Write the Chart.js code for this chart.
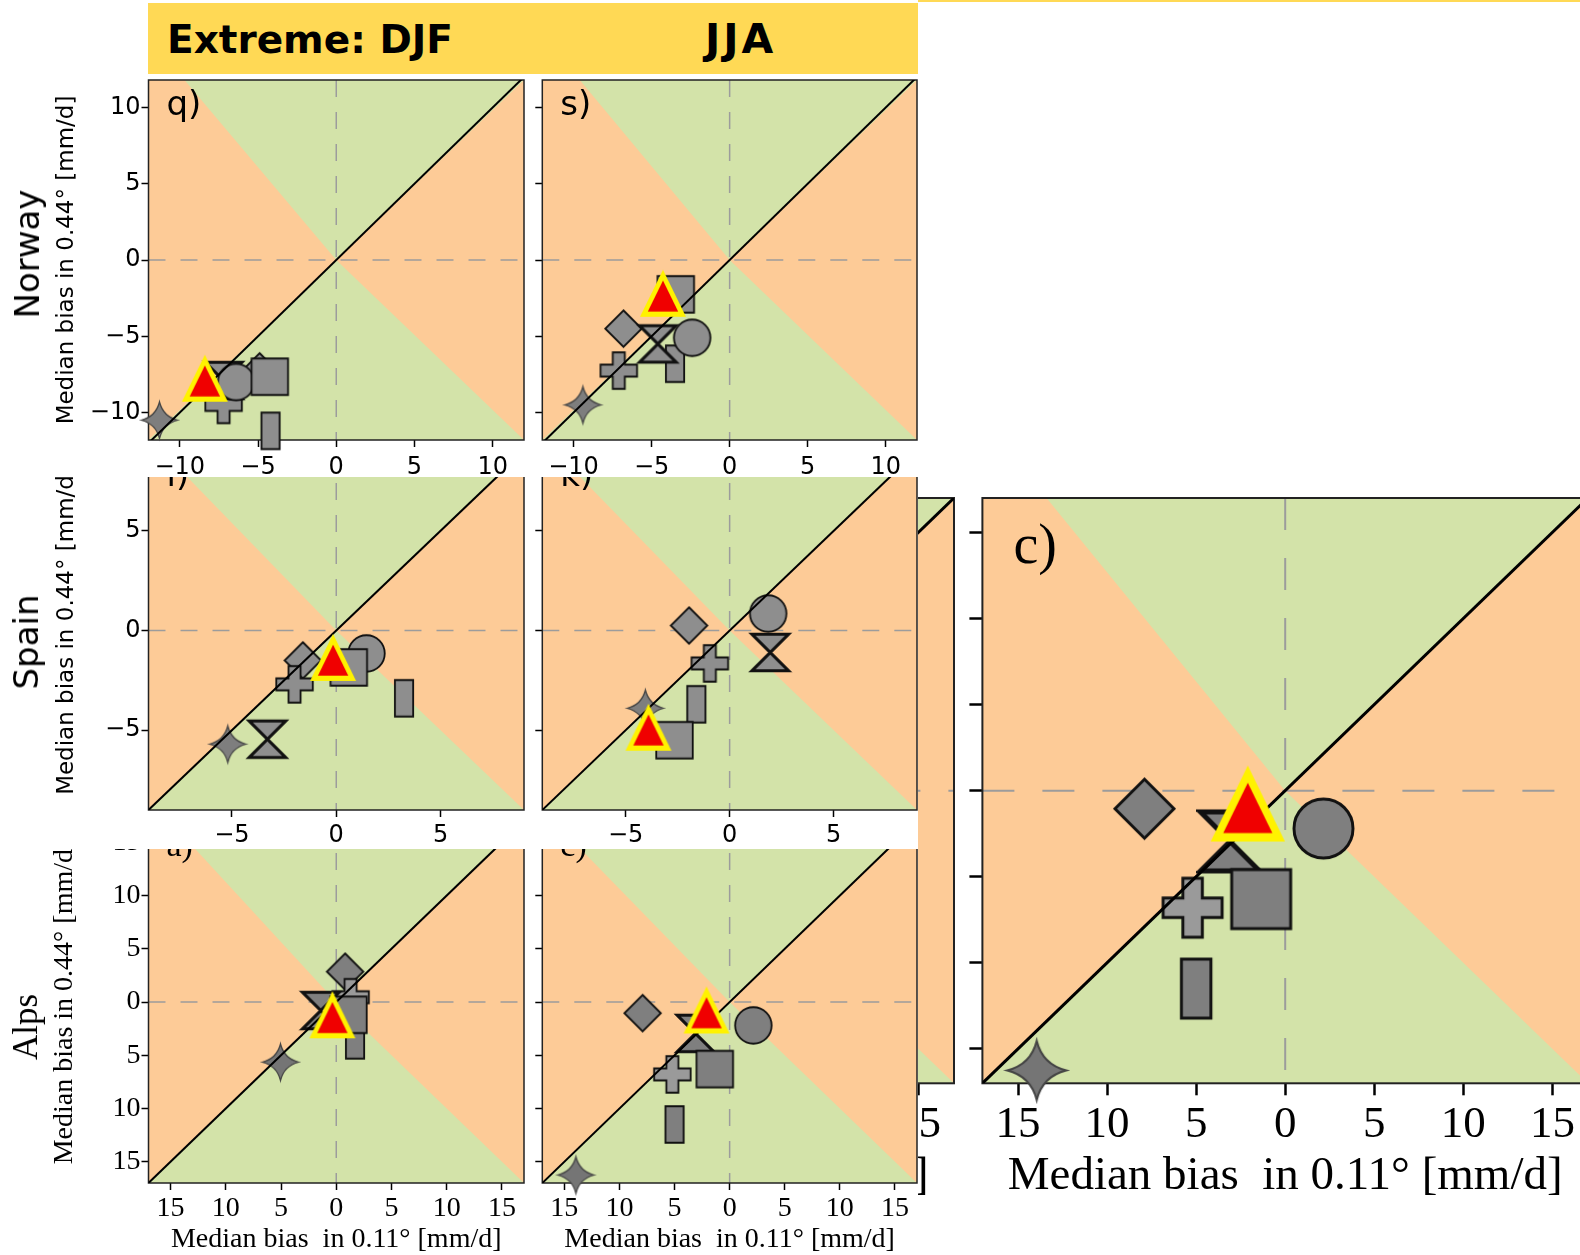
<!DOCTYPE html>
<html>
<head>
<meta charset="utf-8">
<script src="https://cdn.jsdelivr.net/npm/chart.js@4.4.1/dist/chart.umd.min.js"></script>
<style>
  html, body { margin: 0; padding: 0; background: #fff; }
  body { width: 1580px; height: 1255px; overflow: hidden; position: relative; }
  .box { position: absolute; background: #fff; }
  .box canvas { display: block; }
  .banner { position: absolute; left: 148px; top: 3px; width: 770px; height: 71px; background: #FFD955; z-index: 20; }
  .banner span { position: absolute; top: 50%; transform: translateY(-50%); font: bold 39px "DejaVu Sans"; color: #000; white-space: nowrap; }
  .topline { position: absolute; left: 918px; top: 0; width: 662px; height: 2px; background: #FFD955; z-index: 20; }
  .rlab { position: absolute; transform: translate(-50%, -50%) rotate(-90deg); white-space: nowrap; color: #000; z-index: 20; }
</style>
</head>
<body>
<div class="topline"></div>
<div class="banner">
  <span style="left:19px">Extreme: DJF</span>
  <span style="left:557px;font-size:41px;letter-spacing:3px">JJA</span>
</div>
<div class="rlab" style="left:27px;top:254px;font:34px 'DejaVu Sans'">Norway</div>
<div class="rlab" style="left:26px;top:642px;font:34px 'DejaVu Sans'">Spain</div>
<div class="rlab" style="left:26px;top:1027px;font:35px 'Liberation Serif'">Alps</div>

<script>
// marker order used in every panel (drawn bottom to top)
const markerKinds = ["star", "diamond", "rect", "plus", "hourglass", "circle", "square", "mean"];

// median bias in 0.11° (x) and 0.44° (y), mm/d
const norwayDjfX = [-11.3, -4.9, -4.2, -7.2, -7.2, -6.4, -4.25, -8.4];
const norwayDjfY = [-10.5, -7.3, -11.2, -9.5, -7.9, -8.0, -7.65, -7.75];
const norwayJjaX = [-9.4, -6.8, -3.5, -7.1, -4.6, -2.4, -3.45, -4.27];
const norwayJjaY = [-9.5, -4.5, -6.8, -7.25, -5.5, -5.1, -2.25, -2.18];
const spainDjfX = [-5.2, -1.6, 3.25, -2.0, -3.3, 1.45, 0.6, -0.15];
const spainDjfY = [-5.7, -1.5, -3.4, -2.7, -5.45, -1.15, -1.85, -1.35];
const spainJjaX = [-4.05, -1.95, -1.6, -0.95, 1.95, 1.85, -2.65, -3.9];
const spainJjaY = [-3.9, 0.25, -3.7, -1.65, -1.1, 0.85, -5.5, -4.85];
const alpsDjfX = [-5.05, 0.8, 1.7, 1.3, -1.4, null, 1.1, -0.35];
const alpsDjfY = [-5.65, 2.85, -3.6, 0.45, -0.8, null, -1.2, -1.2];
const alpsJjaX = [-13.95, -7.9, -5.0, -5.2, -3.1, 2.15, -1.35, -2.1];
const alpsJjaY = [-16.25, -1.05, -11.5, -6.8, -2.95, -2.2, -6.3, -0.75];

const norwayTicks = [-10, -5, 0, 5, 10];
const spainTicks = [-5, 0, 5];
const alpsTicks = [-15, -10, -5, 0, 5, 10, 15];
const oneToOne = [-20, 20];

const ORANGE = "#FDCB97";
const GREEN = "#D3E3A9";

// marker images drawn once per size
function shapeCanvas(kind, s, fill) {
  let w = s, h = s;
  if (kind === "rect") w = s / 2;
  if (kind === "mean") { w = s * 1.26; h = s * 1.29; }
  const pad = 4;
  const c = document.createElement("canvas");
  c.width = Math.round(w + 2 * pad);
  c.height = Math.round(h + 2 * pad);
  const g = c.getContext("2d");
  g.translate(c.width / 2, c.height / 2);
  const hw = w / 2, hh = h / 2;
  if (kind === "mean") {
    const tri = (k) => {
      const cy = hh / 3;
      g.beginPath();
      g.moveTo(0, cy + (-hh - cy) * k);
      g.lineTo(hw * k, cy + (hh - cy) * k);
      g.lineTo(-hw * k, cy + (hh - cy) * k);
      g.closePath();
    };
    tri(1); g.fillStyle = "#FFF200"; g.fill();
    tri(0.66); g.fillStyle = "#F00000"; g.fill();
    return c;
  }
  g.beginPath();
  if (kind === "square" || kind === "rect") {
    g.rect(-hw, -hh, w, h);
  } else if (kind === "circle") {
    g.arc(0, 0, hw, 0, Math.PI * 2);
  } else if (kind === "diamond") {
    g.moveTo(0, -hh); g.lineTo(hw, 0); g.lineTo(0, hh); g.lineTo(-hw, 0); g.closePath();
  } else if (kind === "plus") {
    const t = s * 0.165;
    g.moveTo(-t, -hh); g.lineTo(t, -hh); g.lineTo(t, -t); g.lineTo(hw, -t); g.lineTo(hw, t);
    g.lineTo(t, t); g.lineTo(t, hh); g.lineTo(-t, hh); g.lineTo(-t, t); g.lineTo(-hw, t);
    g.lineTo(-hw, -t); g.lineTo(-t, -t); g.closePath();
  } else if (kind === "star") {
    const k = 0.2 * hw;
    g.moveTo(0, -hh);
    g.quadraticCurveTo(k, -k, hw, 0);
    g.quadraticCurveTo(k, k, 0, hh);
    g.quadraticCurveTo(-k, k, -hw, 0);
    g.quadraticCurveTo(-k, -k, 0, -hh);
    g.closePath();
  } else if (kind === "hourglass") {
    g.moveTo(-hw, -hh); g.lineTo(hw, -hh); g.lineTo(-hw, hh); g.lineTo(hw, hh); g.closePath();
  }
  g.fillStyle = fill;
  g.fill();
  g.lineJoin = "miter";
  g.lineWidth = kind === "hourglass" ? s * 0.085 : (kind === "star" ? s * 0.035 : s * 0.05);
  g.strokeStyle = kind === "star" ? "#444" : "#111";
  g.stroke();
  return c;
}

function markerSet(s, dark) {
  const fills = {
    star: dark ? "#757575" : "#7e7e7e",
    plus: dark ? "#9a9a9a" : "#8e8e8e",
  };
  const out = {};
  markerKinds.forEach(k => { out[k] = shapeCanvas(k, s, fills[k] || (dark ? "#7f7f7f" : "#8e8e8e")); });
  return out;
}

// quadrant background, zero lines, frame and panel letter
const quadPlugin = {
  id: "quad",
  beforeDatasetsDraw(chart, args, o) {
    const { ctx, chartArea: a, scales: { x, y } } = chart;
    const P = (vx, vy) => [x.getPixelForValue(vx), y.getPixelForValue(vy)];
    const poly = (pts) => {
      ctx.beginPath();
      pts.forEach((p, i) => (i ? ctx.lineTo(p[0], p[1]) : ctx.moveTo(p[0], p[1])));
      ctx.closePath();
      ctx.fill();
    };
    ctx.save();
    ctx.beginPath();
    ctx.rect(a.left, a.top, a.right - a.left, a.bottom - a.top);
    ctx.clip();
    ctx.fillStyle = ORANGE;
    ctx.fillRect(a.left, a.top, a.right - a.left, a.bottom - a.top);
    ctx.fillStyle = GREEN;
    poly([P(0, 0), P(o.apex, y.max), P(x.max, y.max)]);
    poly([P(0, 0), P(x.min, y.min), P(x.max, y.min)]);
    ctx.strokeStyle = "#9c9c9c";
    ctx.lineWidth = o.dashWidth;
    ctx.setLineDash([o.dashOn, o.dashOff]);
    const x0 = x.getPixelForValue(0), y0 = y.getPixelForValue(0);
    ctx.beginPath();
    ctx.moveTo(x0, a.top); ctx.lineTo(x0, a.bottom);
    ctx.stroke();
    ctx.beginPath();
    ctx.moveTo(a.left, y0); ctx.lineTo(a.right, y0);
    ctx.stroke();
    ctx.restore();

    ctx.save();
    ctx.strokeStyle = "#222";
    ctx.lineWidth = o.frameWidth;
    ctx.strokeRect(a.left, a.top, a.right - a.left, a.bottom - a.top);
    ctx.fillStyle = "#000";
    ctx.font = o.font;
    ctx.textBaseline = "alphabetic";
    ctx.fillText(o.label, a.left + o.dx, a.top + o.dy);
    ctx.restore();
  }
};

const minusFmt = v => (v < 0 ? "\u2212" + Math.abs(v) : String(v));
const absFmt = v => String(Math.abs(v));

function axis(o) {
  return {
    type: "linear",
    min: o.min,
    max: o.max,
    afterBuildTicks: s => { s.ticks = o.ticks.map(v => ({ value: v })); },
    afterFit: s => { if (o.horizontal) s.height = o.size; else s.width = o.size; },
    grid: {
      drawOnChartArea: false, drawTicks: true, tickLength: o.tickLength,
      tickColor: "#000", tickWidth: o.tickWidth, color: "#000"
    },
    border: { display: false },
    ticks: {
      display: o.labels, autoSkip: false, maxRotation: 0, minRotation: 0,
      padding: o.pad, color: "#000", font: o.font, callback: o.fmt
    },
    title: o.title
      ? { display: true, text: o.title, color: "#000", font: o.titleFont, padding: o.titlePad }
      : { display: false }
  };
}

// box = [left, top, width, height] of the canvas, area = [left, top, right, bottom] of the plot.
// keep at least ~18px above the plot so the y labels never push the plot down
function panel(p) {
  const [bl, bt, bw, bh] = p.box;
  const [al, at, ar, ab] = p.area;
  const holder = document.createElement("div");
  holder.className = "box";
  holder.style.left = bl + "px";
  holder.style.top = bt + "px";
  holder.style.zIndex = p.z;
  const cv = document.createElement("canvas");
  cv.width = bw;
  cv.height = bh;
  cv.style.width = bw + "px";
  cv.style.height = bh + "px";
  holder.appendChild(cv);
  document.body.appendChild(holder);

  const marks = markerSet(p.size, p.dark);
  const layers = [];   // bottom to top
  markerKinds.forEach((k, i) => {
    if (k === "mean") return;
    layers.push({
      type: "scatter",
      data: p.xs[i] === null ? [] : [{ x: p.xs[i], y: p.ys[i] }],
      pointStyle: marks[k], pointRadius: 5, clip: false
    });
  });
  layers.push({
    type: "line",
    data: oneToOne.map(v => ({ x: v, y: v })),
    borderColor: "#000", borderWidth: p.lineWidth, pointRadius: 0, clip: 0
  });
  const m = markerKinds.indexOf("mean");
  layers.push({
    type: "scatter",
    data: [{ x: p.xs[m], y: p.ys[m] }],
    pointStyle: marks.mean, pointRadius: 5, clip: false
  });
  // Chart.js paints the first dataset last, so hand them over top first
  const datasets = layers.reverse();

  new Chart(cv, {
    type: "scatter",
    data: { datasets },
    options: {
      responsive: false,
      animation: false,
      devicePixelRatio: 1,
      events: [],
      layout: {
        autoPadding: false,
        padding: { left: 0, top: at - bt, right: bl + bw - ar, bottom: 0 }
      },
      plugins: {
        legend: { display: false },
        tooltip: { enabled: false },
        quad: p.quad
      },
      scales: {
        x: axis(Object.assign({ horizontal: true, size: bt + bh - ab }, p.x)),
        y: axis(Object.assign({ horizontal: false, size: al - bl }, p.y))
      }
    },
    plugins: [quadPlugin]
  });
}

const sans = (s) => ({ family: "DejaVu Sans", size: s });
const serif = (s) => ({ family: "Liberation Serif", size: s });
const Y_TITLE = "Median bias in 0.44\u00b0 [mm/d]";
const X_TITLE = "Median bias  in 0.11\u00b0 [mm/d]";

function smallQuad(label, apex, font) {
  return { apex, label, font, dx: 18, dy: 35, dashOn: 17, dashOff: 15, dashWidth: 1.5, frameWidth: 1.5 };
}

// Norway row
const nx = { min: -12, max: 12, ticks: norwayTicks, labels: true, tickLength: 7, tickWidth: 1.5, pad: 6, font: sans(24), fmt: minusFmt };
const nyL = { min: -11.8, max: 11.8, ticks: norwayTicks, labels: true, tickLength: 7, tickWidth: 1.5, pad: 1, font: sans(24), fmt: minusFmt,
  title: Y_TITLE, titleFont: sans(23), titlePad: { top: 53, bottom: 0 } };
const nyR = { min: -11.8, max: 11.8, ticks: norwayTicks, labels: false, tickLength: 7, tickWidth: 1.5 };

panel({ box: [0, 60, 529, 417], area: [148.5, 80, 524, 440], z: 5, size: 36.5,
  xs: norwayDjfX, ys: norwayDjfY, lineWidth: 2, x: nx, y: nyL,
  quad: smallQuad("q)", -9.7, '34px "DejaVu Sans"') });
panel({ box: [529, 60, 389, 417], area: [542.3, 80, 917, 440], z: 5, size: 36.5,
  xs: norwayJjaX, ys: norwayJjaY, lineWidth: 2, x: nx, y: nyR,
  quad: smallQuad("s)", -9.6, '34px "DejaVu Sans"') });

// Spain row
const sx = { min: -9, max: 9, ticks: spainTicks, labels: true, tickLength: 7, tickWidth: 1.5, pad: 4, font: sans(24), fmt: minusFmt };
const syL = { min: -9, max: 9, ticks: spainTicks, labels: true, tickLength: 7, tickWidth: 1.5, pad: 1, font: sans(24), fmt: minusFmt,
  title: Y_TITLE, titleFont: sans(23), titlePad: { top: 53, bottom: 0 } };
const syR = { min: -9, max: 9, ticks: spainTicks, labels: false, tickLength: 7, tickWidth: 1.5 };

panel({ box: [0, 431, 529, 418], area: [148.5, 451, 524, 810], z: 4, size: 36.5,
  xs: spainDjfX, ys: spainDjfY, lineWidth: 2, x: sx, y: syL,
  quad: smallQuad("i)", -8.35, '34px "DejaVu Sans"') });
panel({ box: [529, 431, 389, 418], area: [542.3, 451, 917, 810], z: 4, size: 36.5,
  xs: spainJjaX, ys: spainJjaY, lineWidth: 2, x: sx, y: syR,
  quad: smallQuad("k)", -8.4, '34px "DejaVu Sans"') });

// Alps row
const ax = { min: -17, max: 17, ticks: alpsTicks, labels: true, tickLength: 7, tickWidth: 1.5, pad: 2, font: serif(28), fmt: absFmt,
  title: X_TITLE, titleFont: serif(28), titlePad: { top: 0, bottom: 4 } };
const ayL = { min: -17, max: 17, ticks: alpsTicks, labels: true, tickLength: 7, tickWidth: 1.5, pad: 1, font: serif(28), fmt: absFmt,
  title: Y_TITLE, titleFont: serif(28), titlePad: { top: 48, bottom: 0 } };
const ayR = { min: -17, max: 17, ticks: alpsTicks, labels: false, tickLength: 7, tickWidth: 1.5 };

panel({ box: [0, 801, 529, 459], area: [148.5, 821, 524, 1183], z: 3, size: 36.5, dark: true,
  xs: alpsDjfX, ys: alpsDjfY, lineWidth: 2, x: ax, y: ayL,
  quad: smallQuad("a)", -15.1, '34px "Liberation Serif"') });
panel({ box: [529, 801, 389, 459], area: [542.3, 821, 917, 1183], z: 3, size: 36.5, dark: true,
  xs: alpsJjaX, ys: alpsJjaY, lineWidth: 2, x: ax, y: ayR,
  quad: smallQuad("c)", -16, '34px "Liberation Serif"') });

// enlarged Alps panels on the right
const bx = { min: -17, max: 17, ticks: alpsTicks, labels: true, tickLength: 12, tickWidth: 2.5, pad: 3, font: serif(45), fmt: absFmt,
  title: X_TITLE, titleFont: serif(47), titlePad: { top: 0, bottom: 55 } };
const by = { min: -17, max: 17, ticks: alpsTicks, labels: false, tickLength: 13, tickWidth: 2.5 };
const bigQuad = (label) => ({ apex: -13.4, label, font: '56px "Liberation Serif"', dx: 31, dy: 65,
  dashOn: 32, dashOff: 28, dashWidth: 2, frameWidth: 2 });

panel({ box: [330, 490, 630, 770], area: [348.4, 498, 954, 1083.3], z: 1, size: 59, dark: true,
  xs: alpsDjfX, ys: alpsDjfY, lineWidth: 3, x: bx, y: by, quad: bigQuad("a)") });
panel({ box: [955, 490, 645, 770], area: [982.4, 498, 1588, 1083.3], z: 2, size: 59, dark: true,
  xs: alpsJjaX, ys: alpsJjaY, lineWidth: 3, x: bx, y: by, quad: bigQuad("c)") });
</script>
</body>
</html>
